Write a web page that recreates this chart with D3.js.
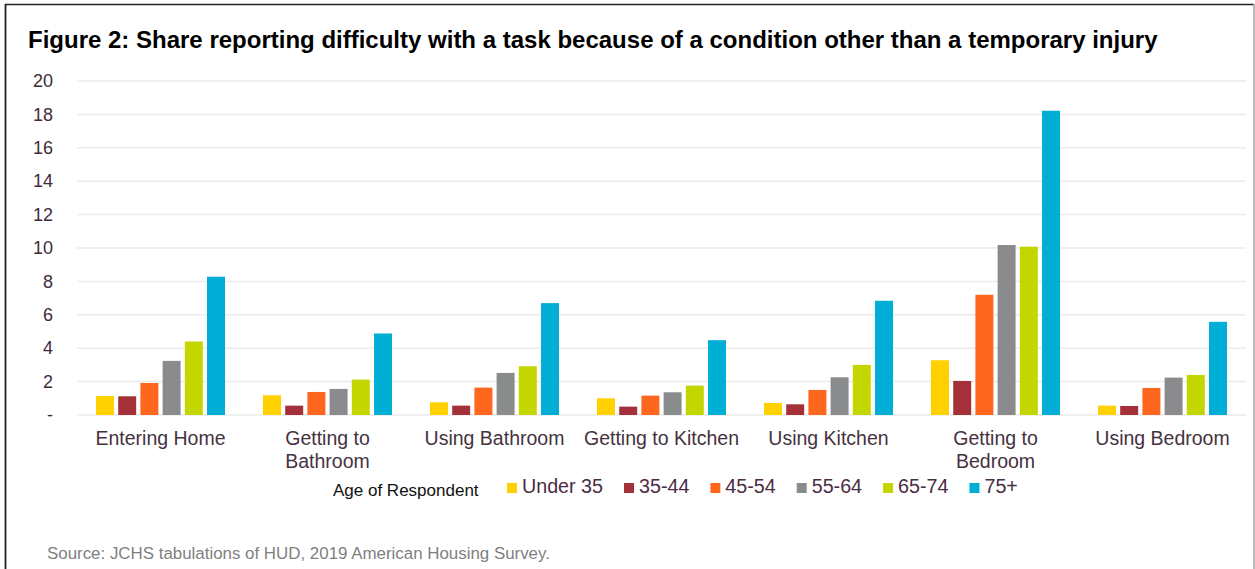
<!DOCTYPE html>
<html>
<head>
<meta charset="utf-8">
<script src="https://cdn.jsdelivr.net/npm/d3@7"></script>
<style>
  html, body { margin: 0; padding: 0; background: #fff; }
  svg { display: block; font-family: "Liberation Sans", Arial, Helvetica, sans-serif; }
</style>
</head>
<body>
<svg id="chart" width="1255" height="569"></svg>
<script>
// Tasks (x-axis groups)
const categories = [
  "Entering Home", "Getting to Bathroom", "Using Bathroom",
  "Getting to Kitchen", "Using Kitchen", "Getting to Bedroom", "Using Bedroom"
];

// Age groups (series)
const ageGroups = ["Under 35", "35-44", "45-54", "55-64", "65-74", "75+"];

// Share reporting difficulty (%), one array per age group, in category order
const under35  = [1.14, 1.18, 0.76, 1.00, 0.72, 3.28, 0.56];
const age35_44 = [1.12, 0.56, 0.56, 0.50, 0.64, 2.04, 0.54];
const age45_54 = [1.92, 1.38, 1.64, 1.16, 1.50, 7.20, 1.62];
const age55_64 = [3.24, 1.56, 2.52, 1.36, 2.26, 10.18, 2.24];
const age65_74 = [4.40, 2.12, 2.92, 1.76, 3.00, 10.08, 2.40];
const age75up  = [8.28, 4.88, 6.70, 4.48, 6.84, 18.22, 5.58];

const yTicks = [0, 2, 4, 6, 8, 10, 12, 14, 16, 18, 20];

const seriesValues = [under35, age35_44, age45_54, age55_64, age65_74, age75up];
const colors = ["#FFD100", "#A4303A", "#FF671F", "#898B8D", "#C4D600", "#00AED6"];

const svg = d3.select("#chart");
const W = 1255, H = 569;

// frame
svg.append("line").attr("x1", 5).attr("x2", 1254).attr("y1", 4.5).attr("y2", 4.5)
  .attr("stroke", "#222").attr("stroke-width", 1.6);
svg.append("line").attr("x1", 5.5).attr("x2", 5.5).attr("y1", 4).attr("y2", H)
  .attr("stroke", "#222").attr("stroke-width", 1.8);
svg.append("line").attr("x1", 1254).attr("x2", 1254).attr("y1", 4).attr("y2", H)
  .attr("stroke", "#a8a8a8").attr("stroke-width", 1.6);

// title
svg.append("text")
  .attr("x", 28).attr("y", 48)
  .attr("font-size", 24).attr("font-weight", "bold").attr("fill", "#000")
  .text("Figure 2: Share reporting difficulty with a task because of a condition other than a temporary injury");

// scales
const plotLeft = 77, plotRight = 1246;
const y = d3.scaleLinear().domain([0, 20]).range([415, 81]);
const x0 = d3.scaleBand().domain(categories).range([plotLeft, plotRight])
  .paddingInner(0.2275).paddingOuter(0.11375);
const x1 = d3.scaleBand().domain(ageGroups).range([0, x0.bandwidth()])
  .paddingInner(0.19).paddingOuter(0);

// gridlines
svg.append("g").selectAll("line").data(yTicks).join("line")
  .attr("x1", plotLeft).attr("x2", plotRight)
  .attr("y1", d => y(d)).attr("y2", d => y(d))
  .attr("stroke", "#ebebeb").attr("stroke-width", 1.5);

// y axis labels
const yAxis = d3.axisLeft(y).tickValues(yTicks).tickSize(0).tickPadding(0)
  .tickFormat(d => d === 0 ? "-" : d3.format("d")(d));
const gy = svg.append("g").attr("transform", "translate(53,0)").call(yAxis);
gy.select(".domain").remove();
gy.selectAll("text").attr("font-size", 18).attr("fill", "#3f2b3c")
  .attr("font-family", "Liberation Sans, Arial, sans-serif");

// bars
const groups = svg.append("g").selectAll("g").data(categories).join("g")
  .attr("transform", d => `translate(${x0(d)},0)`);
groups.selectAll("rect")
  .data((c, ci) => ageGroups.map((a, ai) => ({ age: a, value: seriesValues[ai][ci], color: colors[ai] })))
  .join("rect")
  .attr("x", d => x1(d.age))
  .attr("width", x1.bandwidth())
  .attr("y", d => y(d.value))
  .attr("height", d => y(0) - y(d.value))
  .attr("fill", d => d.color);

// category labels, wrapped to the group width
const xAxis = d3.axisBottom(x0).tickSize(0).tickPadding(0);
const gx = svg.append("g").attr("transform", "translate(0,415)").call(xAxis);
gx.select(".domain").remove();
gx.selectAll("text").remove();
gx.selectAll(".tick").each(function (d) {
  const t = d3.select(this).append("text")
    .attr("text-anchor", "middle").attr("font-size", 19.5).attr("fill", "#45323f")
    .attr("font-family", "Liberation Sans, Arial, sans-serif")
    .attr("y", 30);
  const words = d.split(" ");
  let line = [];
  let tspan = t.append("tspan").attr("x", 0).attr("dy", 0);
  for (const w of words) {
    line.push(w);
    tspan.text(line.join(" "));
    if (tspan.node().getComputedTextLength() > x0.step() - 4 && line.length > 1) {
      line.pop();
      tspan.text(line.join(" "));
      line = [w];
      tspan = t.append("tspan").attr("x", 0).attr("dy", 22.5).text(w);
    }
  }
});

// legend
const legend = svg.append("g");
legend.append("text").attr("x", 333).attr("y", 496)
  .attr("font-size", 17).attr("fill", "#111").text("Age of Respondent");
let lx = 507;
ageGroups.forEach((a, i) => {
  legend.append("rect").attr("x", lx).attr("y", 483).attr("width", 10).attr("height", 10)
    .attr("fill", colors[i]);
  const t = legend.append("text").attr("x", lx + 15).attr("y", 493)
    .attr("font-size", 19.7).attr("fill", "#4a2c43").text(a);
  lx = lx + 15 + t.node().getComputedTextLength() + 21;
});

// source note
svg.append("text").attr("x", 47).attr("y", 559)
  .attr("font-size", 16.9).attr("fill", "#7f7f7f")
  .text("Source: JCHS tabulations of HUD, 2019 American Housing Survey.");
</script>
</body>
</html>
